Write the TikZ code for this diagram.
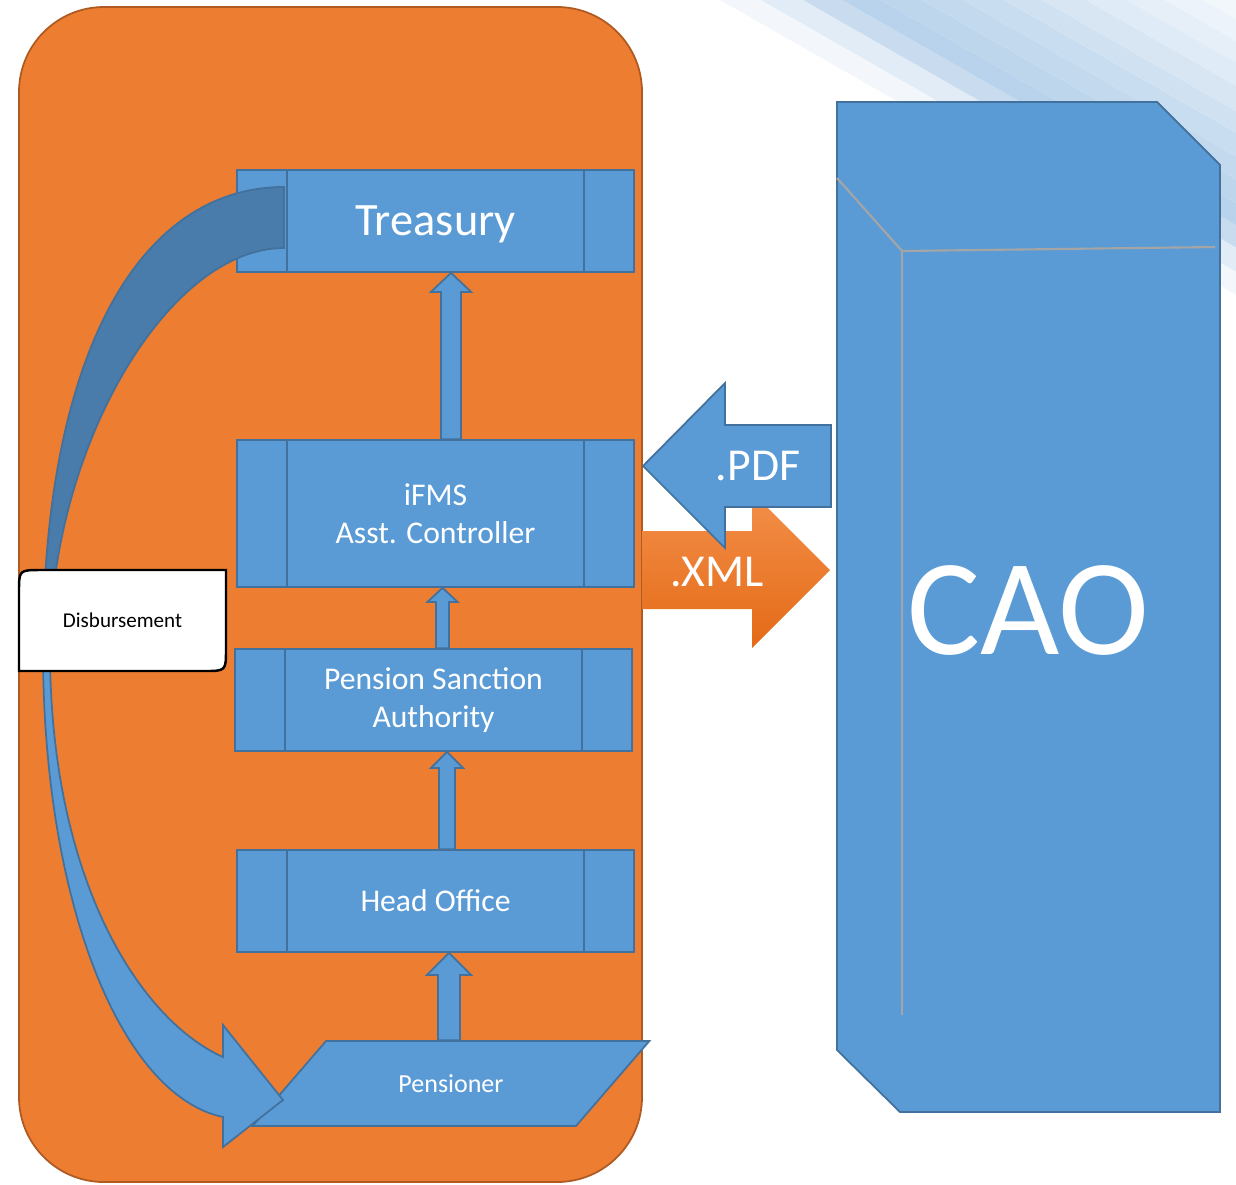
\documentclass[tikz,border=0pt]{standalone}
\usepackage{fontspec}
\setmainfont{Carlito}
\usetikzlibrary{calc,shapes.geometric}
\definecolor{boxblue}{RGB}{91,155,213}
\definecolor{boxedge}{RGB}{65,113,156}
\definecolor{bandblue}{RGB}{73,124,170}
\definecolor{panelorange}{RGB}{237,125,49}
\definecolor{paneledge}{RGB}{174,90,33}
\definecolor{xmltop}{RGB}{243,143,74}
\definecolor{xmlbottom}{RGB}{228,106,22}
\definecolor{cubeline}{RGB}{165,165,165}

% block arrow pointing up: x position, tail node, head node, shaft half width, head half width, head length
\newcommand{\blockup}[6]{%
  \coordinate (bx) at (#1,0);
  \draw[blockarrow] ($(bx |- #2.north)+(-#4,0)$) -- ($(bx |- #3.south)+(-#4,#6)$)
    -- ($(bx |- #3.south)+(-#5,#6)$) -- (bx |- #3.south) -- ($(bx |- #3.south)+(#5,#6)$)
    -- ($(bx |- #3.south)+(#4,#6)$) -- ($(bx |- #2.north)+(#4,0)$) -- cycle;
}

\begin{document}
\begin{tikzpicture}[
    x=0.02cm, y=-0.02cm,
    panel/.style={fill=panelorange, draw=paneledge, line width=1pt, rounded corners=1.7cm},
    procbox/.style={rectangle, draw=boxedge, fill=boxblue, line width=1pt, minimum width=7.94cm,
      align=center, text=white, font=\fontsize{18}{21.6}\selectfont,
      path picture={\draw[boxedge, line width=1pt]
        ([xshift=1cm]path picture bounding box.north west) -- ([xshift=1cm]path picture bounding box.south west)
        ([xshift=-1cm]path picture bounding box.north east) -- ([xshift=-1cm]path picture bounding box.south east);}},
    inputbox/.style={trapezium, trapezium left angle=41, trapezium right angle=139, trapezium stretches=true,
      draw=boxedge, fill=boxblue, line width=1pt, minimum width=7.94cm, minimum height=1.7cm,
      text=white, font=\fontsize{14.8}{17}\selectfont},
    blockarrow/.style={draw=boxedge, fill=boxblue, line width=1pt, line join=miter},
    backband/.style={draw=boxedge, fill=bandblue, line width=1pt},
    notebox/.style={draw=black, fill=white, line width=1.4pt},
    cubeedge/.style={draw=cubeline, line width=1.2pt},
    bigtext/.style={text=white, font=\fontsize{26}{31}\selectfont}
]
\useasboundingbox (0,0) rectangle (1236,1184);

% light stripes in the corner
\begin{scope}
\clip (0,0) rectangle (1236,1184);
\foreach \xa/\xb/\shade in {720/761/F3F7FB, 761/803/E1ECF7, 803/842/C9DCEF, 842/881/B8D3EB,
    881/922/BDD6EC, 922/963/C3D9EE, 963/1004/C9DDF0, 1004/1042/D0E2F2, 1042/1086/D8E6F4,
    1086/1127/DFEBF6, 1127/1165/E6EFF8, 1165/1203/ECF3FA, 1203/1300/F2F7FC}{
  \definecolor{stripe}{HTML}{\shade}
  \fill[stripe] (\xa,0) -- (\xb,0) -- (\xb+700,400) -- (\xa+700,400) -- cycle;
}
\end{scope}

% orange panel
\draw[panel] (19,7) rectangle (642,1182);

% process chain
\node[procbox, minimum height=2.04cm, text depth=0pt, font=\fontsize{26.4}{31}\selectfont] (treasury) at (435.5,221) {Treasury};
\node[procbox, minimum height=2.94cm] (ifms) at (435.5,513.5) {iFMS\\Asst. Controller};
\node[procbox, minimum height=2.04cm] (psa) at (433.5,700) {Pension Sanction\\Authority};
\node[procbox, minimum height=2.04cm] (headoffice) at (435.5,901) {Head Office};
\node[inputbox] (pensioner) at (451,1083.5) {Pensioner};

% arrows up the chain
\blockup{451}{ifms}{treasury}{10}{20}{19}
\blockup{442.5}{psa}{ifms}{6.5}{15}{14}
\blockup{447}{headoffice}{psa}{8}{16}{16}
\blockup{449}{pensioner}{headoffice}{11}{22}{22}

% disbursement loop back to the pensioner
\draw[backband] (284,187) .. controls (135,187) and (43,363) .. (43,650)
  -- (50,650) .. controls (50,449) and (167,248) .. (284,248) -- cycle;
\draw[blockarrow] (43,650) .. controls (43,900) and (120,1095) .. (223,1117)
  -- (223,1147) -- (283,1100) -- (223,1025) -- (223,1057)
  .. controls (140,1020) and (50,880) .. (50,650) -- cycle;
\filldraw[notebox] (19,671) -- (19,592) .. controls (19,570) .. (41,570) -- (226,570)
  -- (226,649) .. controls (226,671) .. (204,671) -- cycle;
\node[font=\fontsize{12}{14}\selectfont] (disb) at (122.5,620.5) {Disbursement};

% file exchange with CAO
\path[top color=xmltop, bottom color=xmlbottom] (642,531) -- (752,531) -- (752,492) -- (830,570)
  -- (752,648) -- (752,609) -- (642,609) -- cycle;
\node[bigtext] (xml) at (717,572) {.XML};
\draw[blockarrow] (643,466) -- (725,383) -- (725,425) -- (831,425) -- (831,507) -- (725,507)
  -- (725,548) -- cycle;
\node[bigtext] (pdf) at (758,466) {.PDF};

% CAO block
\draw[blockarrow] (837,102) -- (1157,102) -- (1220,165) -- (1220,1112) -- (900,1112) -- (837,1050) -- cycle;
\draw[cubeedge] (837,178) -- (902,251) -- (1215,247);
\draw[cubeedge] (902,251) -- (902,1015);
\node[text=white, font=\fontsize{78}{80}\selectfont] (cao) at (1028,610) {CAO};

\end{tikzpicture}
\end{document}
